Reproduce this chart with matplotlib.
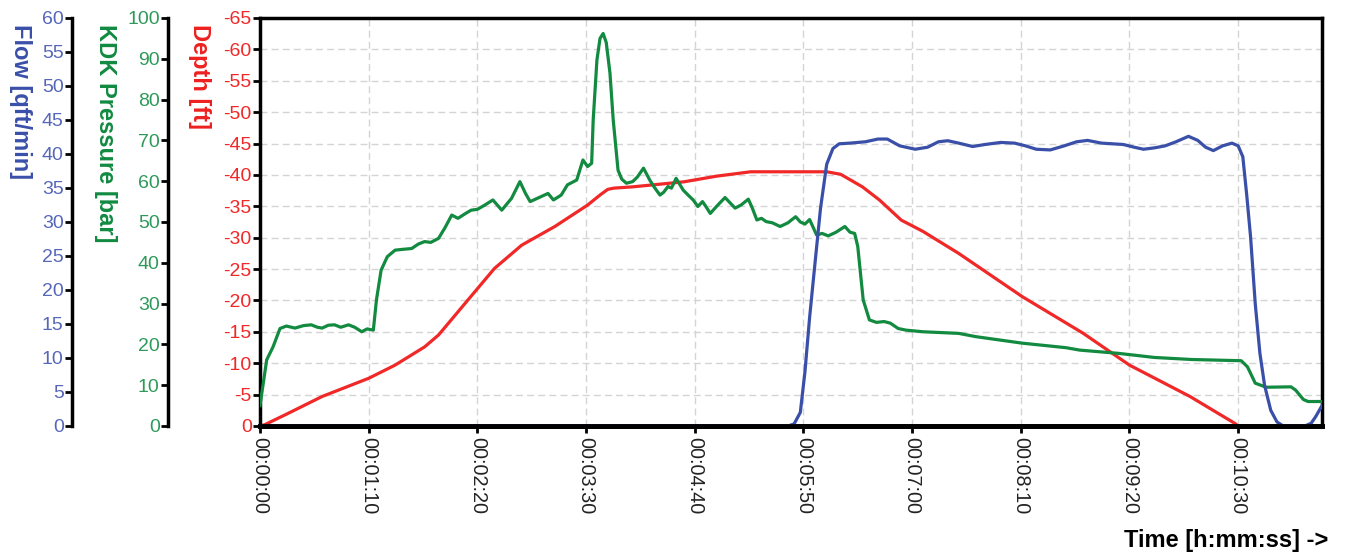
import matplotlib
matplotlib.use("Agg")
import matplotlib.pyplot as plt
from matplotlib.ticker import FuncFormatter, MultipleLocator

plt.rcParams["font.family"] = ["Liberation Sans", "DejaVu Sans"]
plt.rcParams["axes.unicode_minus"] = False

# time in seconds
depth_t = [0, 3, 18, 40, 70, 87, 106, 115, 134, 151, 168.5, 190, 211, 219, 224, 228,
           240, 273, 294, 316, 365, 374, 388, 399, 413, 427, 450, 491, 530, 560, 599, 628, 630]
depth = [0, -0.2, -2.0, -4.7, -7.6, -9.7, -12.6, -14.5, -20.1, -25.1, -28.8, -31.8, -35.2,
         -36.8, -37.7, -37.9, -38.1, -38.9, -39.8, -40.5, -40.5, -40.1, -38.1, -36.0, -32.8,
         -31.0, -27.5, -20.6, -14.8, -9.7, -4.7, -0.4, 0]

press_t = [0, 1, 4.3, 8.4, 12.9, 17, 22.5, 28, 33, 37, 40, 44, 48, 52, 57, 61, 65.5, 69, 73,
           75, 78, 82, 87, 92, 97.7, 102, 106, 110, 115, 119, 123.5, 127.5, 132, 136, 140,
           145, 150, 155.7, 162, 167.4, 171, 174, 178, 181, 185.5, 189, 194, 198, 204, 208,
           211, 213.6, 214.6, 217, 219, 221, 223, 225.4, 227.5, 230.6, 233, 236, 240, 243,
           247, 251, 254, 257.6, 260, 262.8, 265, 268, 272.6, 276, 279, 282, 285, 287, 290,
           294, 299.5, 302, 306, 310, 314.5, 317, 320, 323, 326, 330, 335, 340, 345, 348,
           351, 354, 358.5, 362, 366, 371, 376.7, 380, 383, 385, 388.5, 392.5, 397, 402,
           406, 411, 416, 427, 450, 461, 491, 519, 528, 553, 576, 600, 632, 636, 641, 648,
           664, 667, 672, 675, 684]
pressure = [5, 7.6, 16.2, 19.4, 23.9, 24.5, 24.0, 24.6, 24.8, 24.2, 24.0, 24.7, 24.8, 24.2,
            24.8, 24.2, 23.1, 23.8, 23.5, 30.9, 38.2, 41.5, 43.1, 43.3, 43.5, 44.6, 45.2,
            45.0, 46.0, 48.5, 51.7, 50.9, 52.0, 52.9, 53.1, 54.2, 55.4, 52.9, 55.8, 59.9,
            57.0, 55.0, 55.7, 56.2, 57.0, 55.4, 56.6, 59.1, 60.3, 65.2, 63.6, 64.4, 75, 89.7,
            95, 96.2, 94, 86.5, 75, 62.7, 60.5, 59.5, 59.9, 61, 63.2, 60.3, 58.5, 56.6, 57.3,
            58.7, 58.3, 60.7, 57.8, 56.5, 55.4, 53.8, 55.0, 53.9, 52.1, 53.8, 56.0, 55.0,
            53.4, 54.2, 55.6, 53.5, 50.5, 50.9, 50.1, 49.8, 48.9, 49.8, 51.3, 50.0, 49.5,
            50.6, 46.8, 47.2, 46.6, 47.5, 48.9, 47.5, 47.2, 44.0, 30.9, 26.0, 25.4, 25.6,
            25.2, 23.9, 23.5, 23.1, 22.7, 21.9, 20.3, 19.2, 18.6, 17.8, 16.8, 16.3, 16.0,
            14.5, 10.5, 9.5, 9.6, 8.8, 6.5, 6.0, 6.0]

flow_t = [0, 340, 344, 348, 351, 354, 357, 361, 365, 369, 373, 380, 390, 398, 404, 412, 422,
          430, 437, 443, 450, 459, 467, 477, 486, 493, 500, 509, 518, 526, 533, 542, 556,
          563, 569, 576, 583, 590, 598, 604, 609, 614, 620, 626, 630, 633, 635.5, 638, 641,
          644, 647, 651, 655, 659, 673, 677, 680, 684]
flow = [0, 0, 0.3, 2, 8, 16, 22.9, 32, 38.5, 40.8, 41.5, 41.6, 41.8, 42.2, 42.2, 41.2, 40.7,
        41.0, 41.8, 41.95, 41.6, 41.1, 41.4, 41.7, 41.6, 41.2, 40.7, 40.6, 41.2, 41.8, 42.0,
        41.6, 41.4, 41.0, 40.7, 40.9, 41.2, 41.8, 42.6, 42.0, 41.0, 40.5, 41.2, 41.6, 41.2,
        39.6, 34, 27.8, 18, 10.7, 6, 2.3, 0.6, 0, 0, 0.4, 1.4, 3]

time_ticks = [0, 70, 140, 210, 280, 350, 420, 490, 560, 630]

RED = "#f02828"
GREEN = "#128a40"
BLUE = "#3a4fa8"

fig = plt.figure(figsize=(13.46, 5.54), dpi=100)
ax = fig.add_axes([260 / 1346, 1 - 426 / 554, 1062 / 1346, 408 / 554])
ax2 = ax.twinx()
ax3 = ax.twinx()

ax.plot(depth_t, depth, color=RED, lw=2.3)
ax2.plot(press_t, pressure, color=GREEN, lw=2.3)
ax3.plot(flow_t, flow, color=BLUE, lw=2.3)

ax.set_xlim(0, 684)
ax.set_ylim(0, -65)
ax2.set_ylim(0, 100)
ax3.set_ylim(0, 60)

ax.set_xticks(time_ticks)
ax.xaxis.set_major_formatter(FuncFormatter(
    lambda v, p: "00:%02d:%02d" % (int(v) // 60, int(v) % 60)))
ax.yaxis.set_major_locator(MultipleLocator(5))
ax2.yaxis.set_major_locator(MultipleLocator(10))
ax3.yaxis.set_major_locator(MultipleLocator(5))

ax.grid(True, color="#d4d4d4", linestyle=(0, (5, 3)), linewidth=1.0)
ax.set_axisbelow(True)

for s in ax.spines.values():
    s.set_linewidth(2.5)
    s.set_color("black")

for a, pos in [(ax2, -92 / 1062), (ax3, -188 / 1062)]:
    a.yaxis.set_ticks_position("left")
    a.yaxis.set_label_position("left")
    a.spines["left"].set_position(("axes", pos))
    a.spines["left"].set_linewidth(2.5)
    a.spines["right"].set_visible(False)
    a.spines["top"].set_visible(False)
    # bottom spine kept (and a bit heavier) so lines at zero hide under it
    a.spines["bottom"].set_linewidth(3.4)
    a.spines["bottom"].set_zorder(5)

ax.tick_params(axis="y", direction="out", length=5, width=2, labelsize=14,
               labelcolor=RED, pad=1)
ax2.tick_params(axis="y", direction="out", length=5, width=2, labelsize=14,
                labelcolor="#2e9a5a", pad=1)
ax3.tick_params(axis="y", direction="out", length=5, width=2, labelsize=14,
                labelcolor="#5666b8", pad=1)
ax.tick_params(axis="x", direction="out", length=5, width=2, labelsize=14.3,
               labelcolor="#222222", pad=3)
plt.setp(ax.get_xticklabels(), rotation=270, ha="center", va="top")

fig.text(20 / 1346, 1 - 24 / 554, "Flow [qft/min]", rotation=270, ha="center", va="top",
         color="#3a4fa8", fontsize=17, fontweight="bold")
fig.text(105 / 1346, 1 - 24 / 554, "KDK Pressure [bar]", rotation=270, ha="center",
         va="top", color="#128a40", fontsize=17, fontweight="bold")
fig.text(200 / 1346, 1 - 24 / 554, "Depth [ft]", rotation=270, ha="center", va="top",
         color="#ee2020", fontsize=17, fontweight="bold")
fig.text(1328 / 1346, 1 - 540 / 554, "Time [h:mm:ss] ->", ha="right", va="center",
         color="black", fontsize=17, fontweight="bold")

fig.savefig("out.png", dpi=100)
